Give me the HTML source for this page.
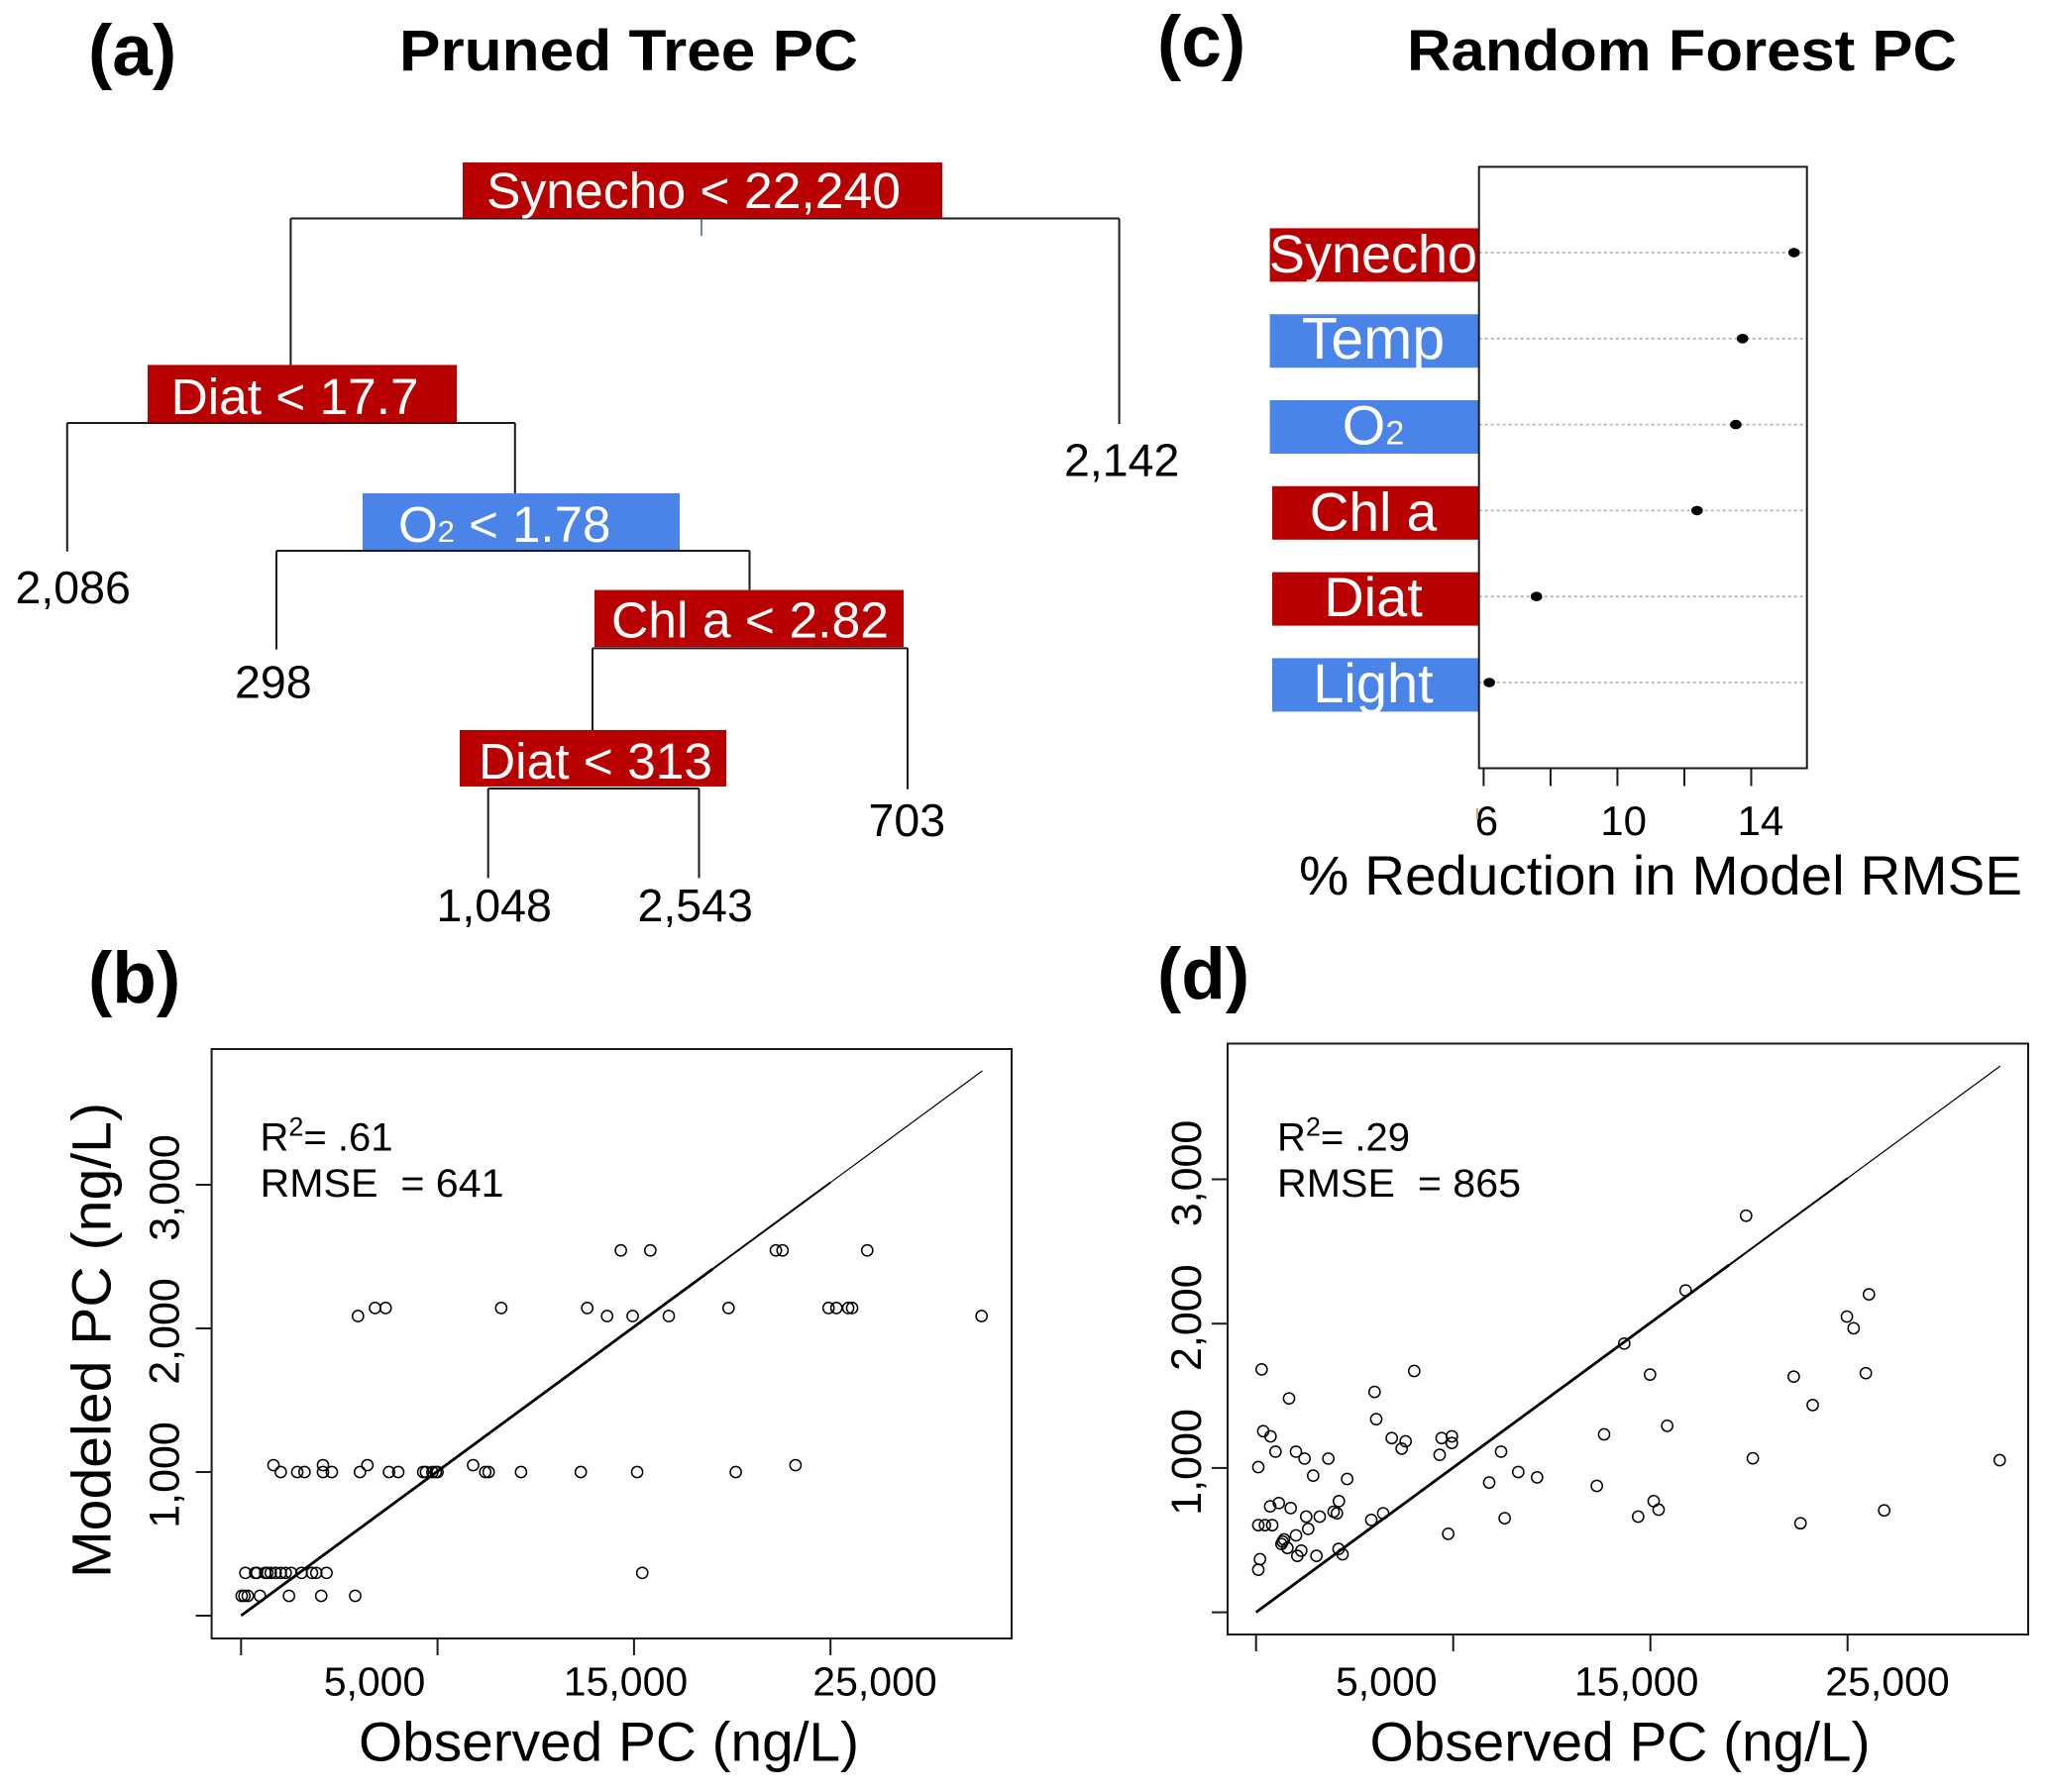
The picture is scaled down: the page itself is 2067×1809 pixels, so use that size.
<!DOCTYPE html>
<html lang="en">
<head>
<meta charset="utf-8">
<title>Pruned Tree and Random Forest PC models</title>
<style>
html,body{margin:0;padding:0;background:#fff;}
svg{display:block;}
text{font-family:"Liberation Sans",sans-serif;fill:#000;white-space:pre;}
.panel{font-size:73px;font-weight:bold;}
.title{font-size:58px;font-weight:bold;}
.node{font-size:51px;fill:#fff;}
.leaf{font-size:46.5px;}
.cat{fill:#fff;text-anchor:middle;}
.axt{font-size:56px;}
.tree line{stroke:#1a1a1a;stroke-width:2;}
</style>
</head>
<body>
<svg id="fig" xmlns="http://www.w3.org/2000/svg" width="2067" height="1809" viewBox="0 0 2067 1809">
<rect x="0" y="0" width="2067" height="1809" fill="#fff"/>

<text class="panel" x="89" y="76">(a)</text>
<text class="panel" x="89" y="1012">(b)</text>
<text class="panel" x="1168" y="67">(c)</text>
<text class="panel" x="1168" y="1008">(d)</text>
<text class="title" x="403" y="71" textLength="463" lengthAdjust="spacingAndGlyphs">Pruned Tree PC</text>
<text class="title" x="1420" y="71" textLength="555" lengthAdjust="spacingAndGlyphs">Random Forest PC</text>

<g class="tree">
  <line x1="293.4" y1="220.5" x2="1129.6" y2="220.5"/>
  <line x1="293.4" y1="220.5" x2="293.4" y2="368.4"/>
  <line x1="1129.6" y1="220.5" x2="1129.6" y2="428"/>
  <line x1="708" y1="220.5" x2="708" y2="238" style="stroke:#3a5a9a;stroke-width:1.5"/>
  <line x1="67.8" y1="427" x2="519.8" y2="427"/>
  <line x1="67.8" y1="427" x2="67.8" y2="556.8"/>
  <line x1="519.8" y1="427" x2="519.8" y2="498"/>
  <line x1="279" y1="556" x2="756.5" y2="556"/>
  <line x1="279" y1="556" x2="279" y2="655.6"/>
  <line x1="756.5" y1="556" x2="756.5" y2="595.6"/>
  <line x1="598" y1="654.4" x2="916" y2="654.4"/>
  <line x1="598" y1="654.4" x2="598" y2="737"/>
  <line x1="916" y1="654.4" x2="916" y2="796.7"/>
  <line x1="492.7" y1="796" x2="705.5" y2="796"/>
  <line x1="492.7" y1="796" x2="492.7" y2="886.4"/>
  <line x1="705.5" y1="796" x2="705.5" y2="886.4"/>

  <rect x="467" y="164" width="484" height="56" fill="#b80000"/>
  <text class="node" x="491" y="210" textLength="418" lengthAdjust="spacingAndGlyphs">Synecho &lt; 22,240</text>
  <rect x="149" y="368.4" width="312" height="58" fill="#b80000"/>
  <text class="node" x="172.6" y="418" textLength="250" lengthAdjust="spacingAndGlyphs">Diat &lt; 17.7</text>
  <rect x="366" y="498" width="320" height="57" fill="#4a84e8"/>
  <text class="node" x="402" y="547">O<tspan font-size="31">2</tspan> &lt; 1.78</text>
  <rect x="600" y="595.6" width="312" height="57.5" fill="#b80000"/>
  <text class="node" x="617" y="643.5" textLength="280" lengthAdjust="spacingAndGlyphs">Chl a &lt; 2.82</text>
  <rect x="464" y="737" width="269" height="57" fill="#b80000"/>
  <text class="node" x="483" y="786" textLength="236" lengthAdjust="spacingAndGlyphs">Diat &lt; 313</text>

  <text class="leaf" x="1074" y="480.5">2,142</text>
  <text class="leaf" x="15.5" y="609">2,086</text>
  <text class="leaf" x="237" y="704.6">298</text>
  <text class="leaf" x="876.5" y="844">703</text>
  <text class="leaf" x="440.5" y="930">1,048</text>
  <text class="leaf" x="643.5" y="930">2,543</text>
</g>

<g id="chart-c"></g>
<g id="chart-b"></g>
<g id="chart-d"></g>
</svg>

<script>
// ---- panel (c) data ----
const importanceNames = ['Synecho', 'Temp', 'O2', 'Chl a', 'Diat', 'Light'];
const importanceValues = [15.28, 13.74, 13.54, 12.38, 7.58, 6.17];
const importanceGroups = ['bio', 'env', 'env', 'bio', 'bio', 'env'];
const importanceTicks = [6, 8, 10, 12, 14];
const importanceTickLabels = ['6', '', '10', '', '14'];

// ---- panel (b) data ----
const treeObservedX = [
  19330,20830,27220,27560,31870,
  6820,7360,13240,17620,24810,29900,30300,30900,31100,
  5950,18630,19930,21770,37690,
  1650,4170,6430,11810,28220,
  2020,2860,3230,4170,4620,6050,7530,8000,9270,9410,9740,9910,10000,12430,12600,14250,17290,20160,25180,
  220,720,810,1230,1340,1510,1760,2020,2270,2550,3080,3610,3830,4350,20420,
  30,170,340,960,2440,4080,5810
];
const treeModeledY = [
  2543,2543,2543,2543,2543,
  2142,2142,2142,2142,2142,2142,2142,2142,2142,
  2086,2086,2086,2086,2086,
  1048,1048,1048,1048,1048,
  1000,1000,1000,1000,1000,1000,1000,1000,1000,1000,1000,1000,1000,1000,1000,1000,1000,1000,1000,
  298,298,298,298,298,298,298,298,298,298,298,298,298,298,298,
  138,138,138,138,138,138,138
];
const treeFitX = [0, 24000, 30000, 37730];
const treeFitY = [0, 2413, 3016, 3793];

// ---- panel (d) data ----
const forestObservedX = [
  283,1673,367,735,987,2025,2461,3667,115,2896,4621,4202,1155,718,1757,2544,3230,3934,4102,
  115,450,819,2645,2025,1422,1288,1350,1590,2293,2092,3064,4186,4387,199,115,5844,6447,6011,6095,8021,
  6882,7586,7385,9411,9931,9931,9311,9746,12427,11824,13298,14253,12611,17284,17653,18675,19982,20853,
  20166,20417,19379,21786,24854,25195,27271,27612,28232,29967,30308,31083,30928,31858,37715
];
const forestModeledY = [
  1683,1482,1255,1219,1113,1113,1065,1065,1006,947,924,770,757,734,722,663,663,697,686,
  604,604,604,578,533,505,473,490,446,427,391,391,439,402,368,295,640,686,1527,1338,1672,
  1207,1185,1134,1207,1219,1173,1091,544,1113,899,972,935,652,876,1233,1862,1647,1292,
  770,711,663,2230,2748,1067,1633,617,1436,2049,1968,2203,1657,706,1054
];
const forestFitX = [0, 24000, 30000, 37746];
const forestFitY = [0, 2407, 3008, 3785];

// ---- shared axis data ----
const scatterXTicks = [0, 10000, 20000, 30000];
const scatterYTicks = [0, 1000, 2000, 3000];
const scatterYTickLabels = ['', '1,000', '2,000', '3,000'];
const scatterXLabels = ['5,000', '15,000', '25,000'];
const treeXLabelAnchors = [6793, 19577, 32258];
const forestXLabelAnchors = [6613, 19296, 32025];

const NS = 'http://www.w3.org/2000/svg';
function add(parent, tag, attrs, txt) {
  const e = document.createElementNS(NS, tag);
  for (const k in attrs) e.setAttribute(k, attrs[k]);
  if (txt !== undefined) e.textContent = txt;
  parent.appendChild(e);
  return e;
}

// ---- draw panel (c) ----
(function () {
  const g = document.getElementById('chart-c');
  const x = v => 1497.4 + (v - 6) * 33.76;
  const frame = {l: 1492.7, r: 1823.7, t: 168.4, b: 775.5};
  const rowY = i => 255 + i * 86.8;
  const colors = {bio: '#b80000', env: '#4a84e8'};
  const boxLeft = [1281.6, 1281.6, 1281.6, 1284, 1284, 1284];
  const labelSize = [54, 59, 56, 55, 56, 56];
  importanceNames.forEach((name, i) => {
    const box = add(g, 'rect', {x: boxLeft[i], y: rowY(i) - 24.6, width: frame.l - boxLeft[i], height: 54, fill: colors[importanceGroups[i]]});
    
    
    const t = add(g, 'text', {class: 'cat', x: 1386, y: rowY(i) + 20, 'font-size': labelSize[i]});
    
    
    if (name === 'O2') {
      t.textContent = 'O';
      add(t, 'tspan', {'font-size': 34, fill: '#fff'}, '2');
    } else {
      t.textContent = name;
    }
    const guide = add(g, 'line', {x1: frame.l, x2: frame.r, y1: rowY(i), y2: rowY(i), stroke: '#b5b5b5', 'stroke-width': 1.8, 'stroke-dasharray': '3 3'});
    
    
    const dot = add(g, 'ellipse', {cx: x(importanceValues[i]), cy: rowY(i), rx: 5.8, ry: 4.8, fill: '#000'});
    
    
  });
  const fr = add(g, 'rect', {x: frame.l, y: frame.t, width: frame.r - frame.l, height: frame.b - frame.t, fill: 'none', stroke: '#1a1a1a', 'stroke-width': 2});
  
  
  importanceTicks.forEach((v, i) => {
    const tick = add(g, 'line', {x1: x(v), x2: x(v), y1: frame.b, y2: frame.b + 18, stroke: '#1a1a1a', 'stroke-width': 2});
    
    
    if (importanceTickLabels[i]) {
      const lab = add(g, 'text', {x: x(v) + 3 + (v - 6) * 0.8, y: 843, 'font-size': 42, 'text-anchor': 'middle'}, importanceTickLabels[i]);
      
      
    }
  });
  const mark = add(g, 'line', {x1: 1491, x2: 1491, y1: 816, y2: 827, stroke: '#d8a070', 'stroke-width': 2});
  
  
  const xt = add(g, 'text', {class: 'axt', x: 1311, y: 903, textLength: 730, lengthAdjust: 'spacingAndGlyphs'}, '% Reduction in Model RMSE');
  
  
})();

// ---- draw scatter panels ----
function scatter(id, o) {
  const g = document.getElementById(id);
  const x = v => o.x0 + v * o.xPerUnit;
  const y = v => o.y0 - v * o.yPerUnit;

  const fr = add(g, 'rect', {x: o.l, y: o.t, width: o.r - o.l, height: o.b - o.t, fill: 'none', stroke: '#1a1a1a', 'stroke-width': 2});
  
  

  scatterXTicks.forEach(v => {
    const tick = add(g, 'line', {x1: x(v), x2: x(v), y1: o.b, y2: o.b + 17, stroke: '#1a1a1a', 'stroke-width': 2});
    
    
  });
  scatterXLabels.forEach((s, i) => {
    const lab = add(g, 'text', {x: x(o.labelAnchors[i]), y: 1711.6, 'font-size': 41, 'text-anchor': 'middle'}, s);
    
    
  });
  scatterYTicks.forEach((v, i) => {
    const tick = add(g, 'line', {x1: o.l - 16, x2: o.l, y1: y(v), y2: y(v), stroke: '#1a1a1a', 'stroke-width': 2});
    
    
    if (scatterYTickLabels[i]) {
      const lab = add(g, 'text', {transform: 'translate(' + o.yLabelX + ',' + (y(v) + o.yLabelShift) + ') rotate(-90)', 'font-size': 43, 'text-anchor': 'middle'}, scatterYTickLabels[i]);
      
      
    }
  });

  const widths = [2.8, 2, 1.2];
  for (let i = 0; i < o.fitX.length - 1; i++) {
    const seg = add(g, 'line', {x1: x(o.fitX[i]), y1: y(o.fitY[i]), x2: x(o.fitX[i + 1]), y2: y(o.fitY[i + 1]), stroke: '#000', 'stroke-width': widths[i]});
    
    
  }
  o.px.forEach((v, i) => {
    const c = add(g, 'circle', {cx: x(v), cy: y(o.py[i]), r: 5.6, fill: 'none', stroke: '#000', 'stroke-width': 1.5});
    
    
  });

  const r2 = add(g, 'text', {x: o.textX, y: 1161.6, 'font-size': 40}, 'R');
  
  
  add(r2, 'tspan', {'font-size': 27, dy: -15}, '2');
  add(r2, 'tspan', {dy: 15}, '= ' + o.r2);
  const rm = add(g, 'text', {x: o.textX, y: 1208, 'font-size': 40, textLength: 246, lengthAdjust: 'spacingAndGlyphs'}, 'RMSE  = ' + o.rmse);
  
  
  const xt = add(g, 'text', {class: 'axt', x: o.xTitleX, y: 1777.6, textLength: 505, lengthAdjust: 'spacingAndGlyphs'}, 'Observed PC (ng/L)');
  
  
}

scatter('chart-b', {
  l: 213.6, r: 1021, t: 1059, b: 1654,
  x0: 243.3, xPerUnit: 198.3 / 10000, y0: 1631, yPerUnit: 0.145,
  px: treeObservedX, py: treeModeledY, fitX: treeFitX, fitY: treeFitY,
  labelAnchors: treeXLabelAnchors, yLabelX: 180.4, yLabelShift: 3,
  textX: 262.5, r2: '.61', rmse: '641', xTitleX: 362
});
scatter('chart-d', {
  l: 1239, r: 2047, t: 1053.5, b: 1650,
  x0: 1267.7, xPerUnit: 199 / 10000, y0: 1627.6, yPerUnit: 0.1457,
  px: forestObservedX, py: forestModeledY, fitX: forestFitX, fitY: forestFitY,
  labelAnchors: forestXLabelAnchors, yLabelX: 1212, yLabelShift: -6,
  textX: 1289, r2: '.29', rmse: '865', xTitleX: 1382.5
});

const yTitle = add(document.getElementById('chart-b'), 'text', {class: 'axt', transform: 'translate(111.4,1593) rotate(-90)', textLength: 480, lengthAdjust: 'spacingAndGlyphs'}, 'Modeled PC (ng/L)');


</script>
</body>
</html>
